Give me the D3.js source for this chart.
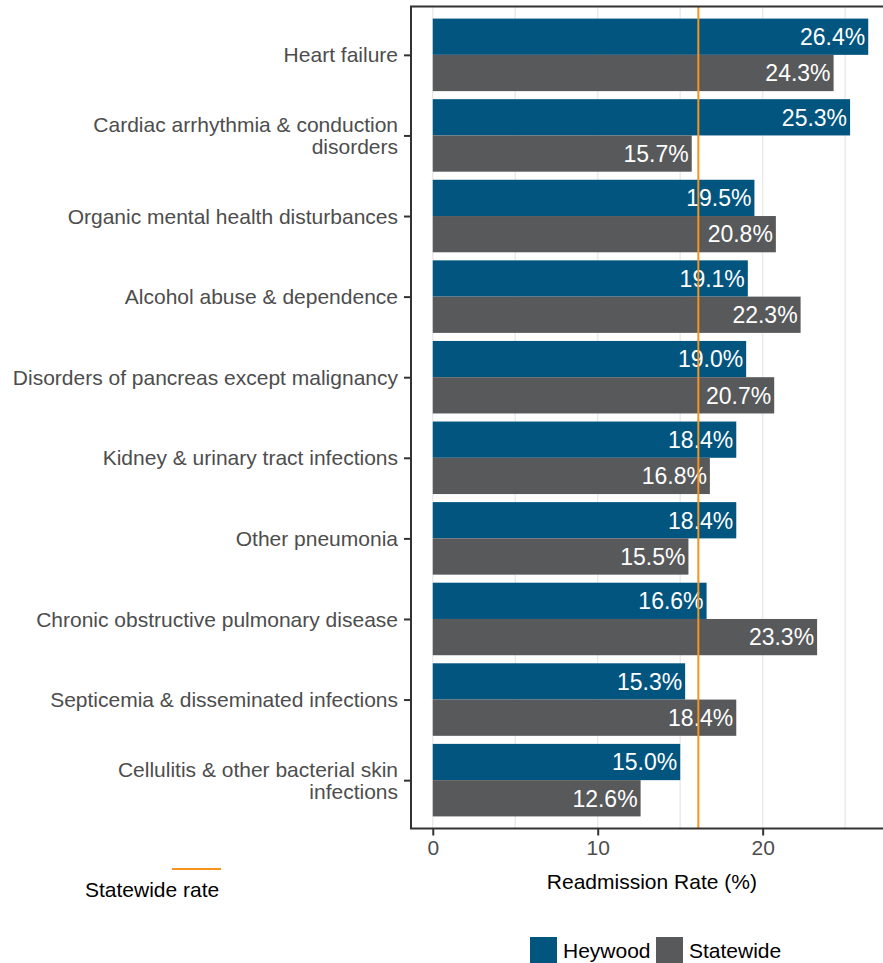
<!DOCTYPE html>
<html>
<head>
<meta charset="utf-8">
<script src="https://cdn.jsdelivr.net/npm/d3@7"></script>
<style>
  body { margin: 0; background: #fff; }
  svg { display: block; }
  text { font-family: "Liberation Sans", Arial, sans-serif; }
</style>
</head>
<body>
<div id="chart"></div>
<script>
// data
var categories = ["Heart failure", "Cardiac arrhythmia & conduction disorders",
  "Organic mental health disturbances", "Alcohol abuse & dependence",
  "Disorders of pancreas except malignancy", "Kidney & urinary tract infections",
  "Other pneumonia", "Chronic obstructive pulmonary disease",
  "Septicemia & disseminated infections", "Cellulitis & other bacterial skin infections"];
var heywood = [26.4, 25.3, 19.5, 19.1, 19.0, 18.4, 18.4, 16.6, 15.3, 15.0];
var statewide = [24.3, 15.7, 20.8, 22.3, 20.7, 16.8, 15.5, 23.3, 18.4, 12.6];
var seriesNames = ["Heywood", "Statewide"];
var statewideRate = 16.1;
var xTicks = [0, 10, 20];
var xGrid = [0, 5, 10, 15, 20, 25];

var width = 883, height = 963;
var colors = { Heywood: "#02557f", Statewide: "#58595b" };
var orange = "#f7941d";
var panel = { left: 411, top: 6.5, bottom: 828.5, right: 890 };

var svg = d3.select("#chart").append("svg")
    .attr("width", width)
    .attr("height", height);

var x = d3.scaleLinear()
    .domain([-1.32, 27.72])
    .range([panel.left, panel.right]);

// discrete axis with ggplot-like expansion
var y = d3.scalePoint()
    .domain(categories)
    .range([panel.top, panel.bottom])
    .padding(0.6);
var step = y.step();
var groupH = step * 0.9;

var sub = d3.scaleBand()
    .domain(seriesNames)
    .range([-groupH / 2, groupH / 2]);

// gridlines
svg.append("g").selectAll("line")
    .data(xGrid)
    .enter().append("line")
    .attr("x1", function(d) { return x(d); })
    .attr("x2", function(d) { return x(d); })
    .attr("y1", panel.top)
    .attr("y2", panel.bottom)
    .attr("stroke", "#ebebeb")
    .attr("stroke-width", 1.5);

// flatten rows
var rows = [];
categories.forEach(function(c, i) {
  rows.push({ cat: c, series: "Heywood", value: heywood[i] });
  rows.push({ cat: c, series: "Statewide", value: statewide[i] });
});

svg.append("g").selectAll("rect")
    .data(rows)
    .enter().append("rect")
    .attr("x", x(0))
    .attr("y", function(d) { return y(d.cat) + sub(d.series); })
    .attr("width", function(d) { return x(d.value) - x(0); })
    .attr("height", sub.bandwidth())
    .attr("fill", function(d) { return colors[d.series]; });

svg.append("g").selectAll("text")
    .data(rows)
    .enter().append("text")
    .attr("x", function(d) { return x(d.value) - 3; })
    .attr("y", function(d) { return y(d.cat) + sub(d.series) + sub.bandwidth() / 2; })
    .attr("dy", "0.36em")
    .attr("text-anchor", "end")
    .attr("fill", "#fff")
    .style("font-size", "23px")
    .text(function(d) { return d.value.toFixed(1) + "%"; });

// statewide rate line
svg.append("line")
    .attr("x1", x(statewideRate))
    .attr("x2", x(statewideRate))
    .attr("y1", panel.top)
    .attr("y2", panel.bottom)
    .attr("stroke", orange)
    .attr("stroke-width", 2);

// panel frame (left, top, bottom)
svg.append("path")
    .attr("d", "M" + panel.right + "," + panel.top + "H" + panel.left + "V" + panel.bottom + "H" + panel.right)
    .attr("fill", "none")
    .attr("stroke", "#333")
    .attr("stroke-width", 2);

// x axis
var xAxis = svg.append("g")
    .attr("transform", "translate(0," + panel.bottom + ")")
    .call(d3.axisBottom(x).tickValues(xTicks).tickSize(7).tickPadding(5).tickFormat(d3.format("d")));
xAxis.select(".domain").remove();
xAxis.selectAll(".tick line").attr("stroke", "#333").attr("stroke-width", 2);
xAxis.selectAll(".tick text")
    .attr("fill", "#4d4d4d")
    .style("font-size", "21px")
    .style("font-family", "'Liberation Sans', Arial, sans-serif");

// y axis
var yAxis = svg.append("g")
    .attr("transform", "translate(" + panel.left + ",0)")
    .call(d3.axisLeft(y).tickSize(7).tickPadding(6));
yAxis.select(".domain").remove();
yAxis.selectAll(".tick line").attr("stroke", "#333").attr("stroke-width", 2);
yAxis.selectAll(".tick text").remove();

var wrapMap = {
  "Cardiac arrhythmia & conduction disorders": ["Cardiac arrhythmia & conduction", "disorders"],
  "Cellulitis & other bacterial skin infections": ["Cellulitis & other bacterial skin", "infections"]
};
var lineH = 22;
categories.forEach(function(c) {
  var lines = wrapMap[c] || [c];
  var t = svg.append("text")
      .attr("text-anchor", "end")
      .attr("fill", "#4d4d4d")
      .style("font-size", "21px");
  lines.forEach(function(l, k) {
    t.append("tspan")
      .attr("x", 398)
      .attr("y", y(c) + (k - (lines.length - 1) / 2) * lineH)
      .attr("dy", "0.36em")
      .text(l);
  });
});

// axis title
svg.append("text")
    .attr("x", x(0) + (panel.right - 7 - x(0)) / 2 - 6)
    .attr("y", 889)
    .attr("text-anchor", "middle")
    .attr("fill", "#000")
    .style("font-size", "21px")
    .text("Readmission Rate (%)");

// statewide rate legend
svg.append("line")
    .attr("x1", 172).attr("x2", 221)
    .attr("y1", 869).attr("y2", 869)
    .attr("stroke", orange)
    .attr("stroke-width", 2);
svg.append("text")
    .attr("x", 85)
    .attr("y", 897)
    .attr("fill", "#000")
    .style("font-size", "21px")
    .text("Statewide rate");

// series legend
var legX = [530, 656];
var leg = svg.append("g").selectAll("g")
    .data(seriesNames)
    .enter().append("g")
    .attr("transform", function(d, i) { return "translate(" + legX[i] + ",937)"; });
leg.append("rect")
    .attr("width", 27)
    .attr("height", 27)
    .attr("fill", function(d) { return colors[d]; });
leg.append("text")
    .attr("x", 33)
    .attr("y", 21)
    .attr("fill", "#000")
    .style("font-size", "21px")
    .text(function(d) { return d; });
</script>
</body>
</html>
